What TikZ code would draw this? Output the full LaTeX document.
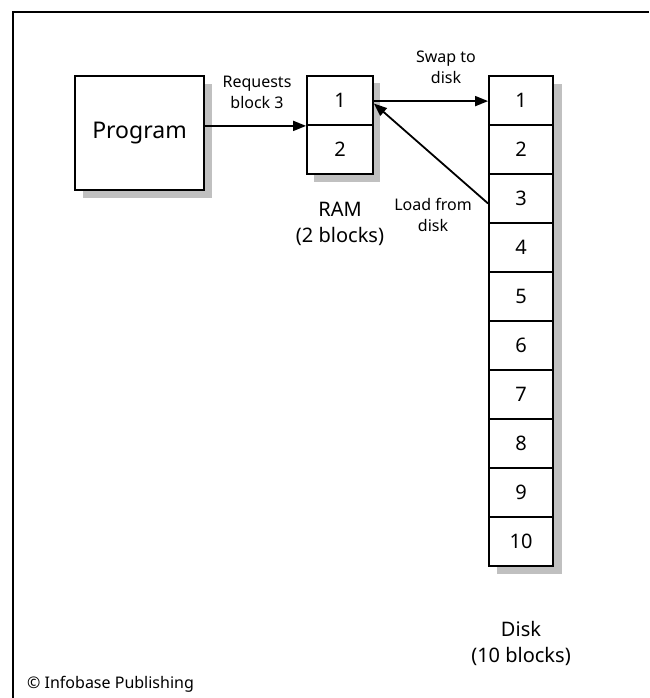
\documentclass[tikz,border=0pt]{standalone}
\usepackage{fontspec}
\setmainfont{Noto Sans}
\usetikzlibrary{arrows.meta}
\definecolor{shadowgray}{HTML}{C0C0C0}
\begin{document}
\begin{tikzpicture}[x=1pt,y=-1pt,
  box/.style={draw, line width=1.8pt, fill=white, inner sep=0pt},
  cell/.style={box, minimum width=64pt, minimum height=49pt, font=\fontsize{20}{24}\selectfont},
  lbl/.style={align=center, font=\fontsize{16}{21}\selectfont, inner sep=0pt},
  biglbl/.style={align=center, font=\fontsize{20}{26}\selectfont, inner sep=0pt},
  arr/.style={line width=1.8pt, -{Triangle[length=13pt,width=10pt]}}]
\useasboundingbox (0,0) rectangle (649,698);
% frame
\draw[line width=1.8pt] (13,698) -- (13,12) -- (649,12);
% shadows
\fill[shadowgray] (83,84) rectangle (212,198);
\fill[shadowgray] (314,83) rectangle (380,182);
\fill[shadowgray] (497,84) rectangle (562,574);
% program
\node[box, minimum width=129pt, minimum height=114pt, font=\fontsize{23}{28}\selectfont] (program) at (139.5,133) {Program};
% RAM
\node[cell, minimum width=66pt] (ram1) at (340,100.5) {1};
\node[cell, minimum width=66pt] (ram2) at (340,149.5) {2};
% Disk
\foreach \i in {1,...,10} {
  \node[cell] (d\i) at (521,{76+49*(\i-0.5)}) {\i};
}
% arrows
\draw[arr] (program.east |- ram1.south west) -- (ram1.south west);
\draw[arr] ([yshift=-0.6pt]ram1.east) -- ([yshift=-0.6pt]d1.west);
\draw[arr] ([yshift=-5pt]d3.west) -- ([yshift=-3pt]ram1.east);
% labels
\node[lbl] (lreq) at (257,92) {Requests\\block 3};
\node[lbl] (lswap) at (446,67) {Swap to\\disk};
\node[lbl] (lload) at (433,215) {Load from\\disk};
\node[biglbl] (lram) at (340,224) {RAM\\(2 blocks)};
\node[biglbl] (ldisk) at (521,643) {Disk\\(10 blocks)};
\node[anchor=west, font=\fontsize{16}{19}\selectfont, inner sep=0pt] (copy) at (27,684) {© Infobase Publishing};
\end{tikzpicture}
\end{document}
